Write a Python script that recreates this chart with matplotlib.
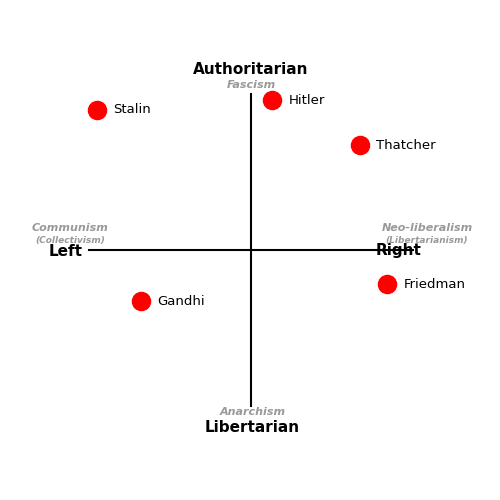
import matplotlib
matplotlib.use("Agg")
import matplotlib.pyplot as plt

names = ["Stalin", "Hitler", "Thatcher", "Friedman", "Gandhi"]
xs = [-9.5, 1.3, 6.7, 8.4, -6.8]
ys = [9.0, 9.6, 6.7, -2.2, -3.3]

fig = plt.figure(figsize=(5, 5), dpi=100)
ax = fig.add_axes([0, 0, 1, 1])
sx, sy = 16.2, 15.6
ax.set_xlim(-251/sx, 249/sx)
ax.set_ylim(-250/sy, 250/sy)
ax.axis("off")

ax.plot([-10, 10], [0, 0], color="black", lw=1.5)
ax.plot([0, 0], [-10, 10], color="black", lw=1.5)
ax.scatter(xs, ys, s=170, color="red", zorder=3)
for n, x, y in zip(names, xs, ys):
    ax.text(x + 1.0, y, n, fontsize=9.5, va="center", ha="left")

def px(xp, yp):
    return ((xp - 251)/sx, (250 - yp)/sy)

grey = "#999999"
ax.text(*px(251, 70), "Authoritarian", fontsize=11, fontweight="bold", ha="center", va="center")
ax.text(*px(251, 85), "Fascism", fontsize=8, fontweight="bold", style="italic", color=grey, ha="center", va="center")
ax.text(*px(252, 428), "Libertarian", fontsize=11, fontweight="bold", ha="center", va="center")
ax.text(*px(253, 412), "Anarchism", fontsize=8, fontweight="bold", style="italic", color=grey, ha="center", va="center")
ax.text(*px(66, 251), "Left", fontsize=11, fontweight="bold", ha="center", va="center")
ax.text(*px(70, 228), "Communism", fontsize=8, fontweight="bold", style="italic", color=grey, ha="center", va="center")
ax.text(*px(70, 240), "(Collectivism)", fontsize=6.5, fontweight="bold", style="italic", color=grey, ha="center", va="center")
ax.text(*px(399, 251), "Right", fontsize=11, fontweight="bold", ha="center", va="center")
ax.text(*px(427, 228), "Neo-liberalism", fontsize=8, fontweight="bold", style="italic", color=grey, ha="center", va="center")
ax.text(*px(427, 240), "(Libertarianism)", fontsize=6.5, fontweight="bold", style="italic", color=grey, ha="center", va="center")

fig.savefig("out.png", dpi=100)
